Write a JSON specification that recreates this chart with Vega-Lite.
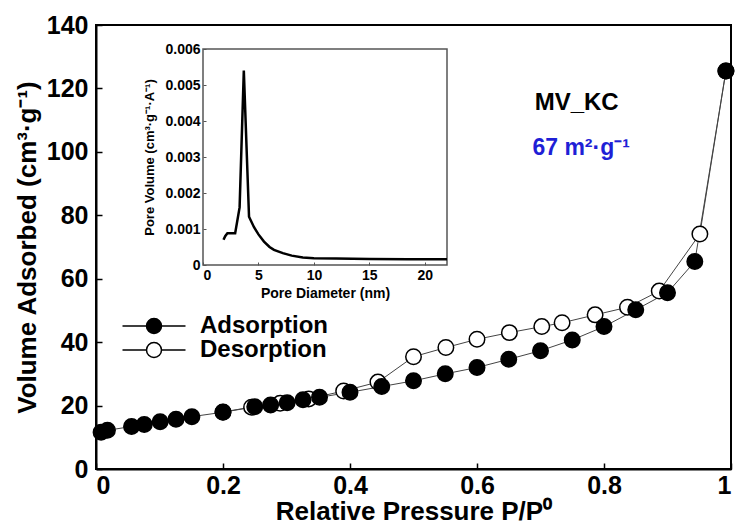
{
  "$schema": "https://vega.github.io/schema/vega-lite/v6.json",
  "width": 635,
  "height": 444,
  "autosize": "none",
  "padding": {"left": 96, "top": 25, "right": 6, "bottom": 58},
  "background": "white",
  "config": {
    "view": {"stroke": "black", "strokeWidth": 2},
    "font": "Liberation Sans",
    "axis": {"grid": false, "labelColor": "black", "titleColor": "black", "domainColor": "black", "tickColor": "black"}
  },
  "datasets": {
    "iso": [
      {"p": 0.992, "v": 125.5, "branch": "Desorption"},
      {"p": 0.951, "v": 74.1, "branch": "Desorption"},
      {"p": 0.887, "v": 56.1, "branch": "Desorption"},
      {"p": 0.837, "v": 51.0, "branch": "Desorption"},
      {"p": 0.786, "v": 48.6, "branch": "Desorption"},
      {"p": 0.734, "v": 46.1, "branch": "Desorption"},
      {"p": 0.702, "v": 44.9, "branch": "Desorption"},
      {"p": 0.651, "v": 43.0, "branch": "Desorption"},
      {"p": 0.600, "v": 40.9, "branch": "Desorption"},
      {"p": 0.551, "v": 38.3, "branch": "Desorption"},
      {"p": 0.500, "v": 35.4, "branch": "Desorption"},
      {"p": 0.444, "v": 27.4, "branch": "Desorption"},
      {"p": 0.390, "v": 24.6, "branch": "Desorption"},
      {"p": 0.335, "v": 22.1, "branch": "Desorption"},
      {"p": 0.290, "v": 20.7, "branch": "Desorption"},
      {"p": 0.245, "v": 19.5, "branch": "Desorption"},
      {"p": 0.200, "v": 18.0, "branch": "Desorption"},
      {"p": 0.008, "v": 11.6, "branch": "Adsorption"},
      {"p": 0.018, "v": 12.2, "branch": "Adsorption"},
      {"p": 0.056, "v": 13.4, "branch": "Adsorption"},
      {"p": 0.076, "v": 14.0, "branch": "Adsorption"},
      {"p": 0.101, "v": 14.9, "branch": "Adsorption"},
      {"p": 0.126, "v": 15.7, "branch": "Adsorption"},
      {"p": 0.151, "v": 16.5, "branch": "Adsorption"},
      {"p": 0.200, "v": 17.9, "branch": "Adsorption"},
      {"p": 0.250, "v": 19.6, "branch": "Adsorption"},
      {"p": 0.275, "v": 20.2, "branch": "Adsorption"},
      {"p": 0.301, "v": 20.9, "branch": "Adsorption"},
      {"p": 0.326, "v": 21.8, "branch": "Adsorption"},
      {"p": 0.352, "v": 22.6, "branch": "Adsorption"},
      {"p": 0.400, "v": 24.2, "branch": "Adsorption"},
      {"p": 0.450, "v": 26.0, "branch": "Adsorption"},
      {"p": 0.500, "v": 27.8, "branch": "Adsorption"},
      {"p": 0.550, "v": 30.0, "branch": "Adsorption"},
      {"p": 0.600, "v": 32.0, "branch": "Adsorption"},
      {"p": 0.650, "v": 34.6, "branch": "Adsorption"},
      {"p": 0.700, "v": 37.3, "branch": "Adsorption"},
      {"p": 0.750, "v": 40.7, "branch": "Adsorption"},
      {"p": 0.800, "v": 44.9, "branch": "Adsorption"},
      {"p": 0.850, "v": 50.2, "branch": "Adsorption"},
      {"p": 0.900, "v": 55.6, "branch": "Adsorption"},
      {"p": 0.943, "v": 65.4, "branch": "Adsorption"},
      {"p": 0.992, "v": 125.5, "branch": "Adsorption"}
    ],
    "psd": [
      {"d": 1.85, "pv": 0.00070},
      {"d": 2.0, "pv": 0.00080},
      {"d": 2.2, "pv": 0.00088},
      {"d": 2.9, "pv": 0.00088},
      {"d": 3.3, "pv": 0.00160},
      {"d": 3.68, "pv": 0.00540},
      {"d": 4.15, "pv": 0.00134},
      {"d": 4.6, "pv": 0.00105},
      {"d": 5.0, "pv": 0.00085},
      {"d": 5.5, "pv": 0.00065},
      {"d": 6.0, "pv": 0.00050},
      {"d": 6.4, "pv": 0.00042},
      {"d": 7.2, "pv": 0.00033},
      {"d": 8.0, "pv": 0.00026},
      {"d": 9.0, "pv": 0.00021},
      {"d": 10.0, "pv": 0.00019},
      {"d": 12.0, "pv": 0.00018},
      {"d": 15.0, "pv": 0.00017},
      {"d": 18.5, "pv": 0.00016},
      {"d": 22.0, "pv": 0.00016}
    ]
  },
  "layer": [
    {
      "layer": [
        {
          "data": {"name": "iso"},
          "mark": {"type": "line", "color": "#444", "strokeWidth": 1},
          "encoding": {
            "x": {"field": "p", "type": "quantitative", "scale": {"domain": [0, 1]},
              "axis": {"values": [0, 0.2, 0.4, 0.6, 0.8, 1], "format": "~g", "title": "Relative Pressure P/P⁰",
                "labelFontSize": 25, "labelFontWeight": "bold", "titleFontSize": 26, "titleFontWeight": "bold",
                "tickSize": -6, "tickWidth": 1.5, "domainWidth": 2, "labelPadding": 10, "titlePadding": 0}},
            "y": {"field": "v", "type": "quantitative", "scale": {"domain": [0, 140]},
              "axis": {"values": [0, 20, 40, 60, 80, 100, 120, 140], "title": "Volume Adsorbed (cm³·g⁻¹)",
                "labelFontSize": 25, "labelFontWeight": "bold", "titleFontSize": 26, "titleFontWeight": "bold",
                "tickSize": -6, "tickWidth": 1.5, "domainWidth": 2, "labelPadding": 14, "titlePadding": 6}},
            "detail": {"field": "branch"}
          }
        },
        {
          "data": {"name": "iso"},
          "mark": {"type": "point", "filled": true, "size": 240, "stroke": "black", "strokeWidth": 1.5, "opacity": 1},
          "encoding": {
            "x": {"field": "p", "type": "quantitative"},
            "y": {"field": "v", "type": "quantitative"},
            "fill": {"field": "branch", "type": "nominal",
              "scale": {"domain": ["Adsorption", "Desorption"], "range": ["black", "white"]},
              "legend": {"orient": "none", "legendX": 46, "legendY": 289, "title": null,
                "labelFontSize": 24, "labelFontWeight": "bold", "labelColor": "black", "labelOffset": 34,
                "rowPadding": 0, "symbolSize": 225,
                "symbolType": "M-4.2,0H-1M1,0H4.2M-1,0A1,1 0 1,0 1,0A1,1 0 1,0 -1,0",
                "symbolStrokeColor": "black", "symbolStrokeWidth": 1.5,
                "encode": {"symbols": {"update": {"stroke": {"value": "black"}, "strokeWidth": {"value": 1.5}, "opacity": {"value": 1}}}}}
            }
          }
        },
        {
          "data": {"values": [{}]},
          "mark": {"type": "text", "text": "MV_KC", "fontSize": 24, "fontWeight": "bold", "color": "black", "align": "center", "baseline": "alphabetic"},
          "encoding": {"x": {"datum": 0.757, "type": "quantitative"}, "y": {"datum": 113.2, "type": "quantitative"}}
        },
        {
          "data": {"values": [{}]},
          "mark": {"type": "text", "text": "67 m²·g⁻¹", "fontSize": 23, "fontWeight": "bold", "color": "#1f1fd6", "align": "center", "baseline": "alphabetic"},
          "encoding": {"x": {"datum": 0.764, "type": "quantitative"}, "y": {"datum": 99.0, "type": "quantitative"}}
        }
      ]
    },
    {
      "layer": [
        {
          "data": {"values": [{}]},
          "mark": {"type": "rect", "filled": false, "stroke": "#555", "strokeWidth": 1.5},
          "encoding": {
            "x": {"datum": 0, "type": "quantitative", "scale": {"domain": [0, 22], "range": [107, 351]},
              "axis": {"orient": "bottom", "offset": -204, "values": [0, 5, 10, 15, 20], "title": "Pore Diameter (nm)",
                "domain": false, "tickSize": -3, "tickColor": "#555", "labelFontSize": 14, "labelFontWeight": "bold",
                "titleFontSize": 14, "titleFontWeight": "bold", "labelPadding": 6, "titlePadding": 4}},
            "x2": {"datum": 22},
            "y": {"datum": 0, "type": "quantitative", "scale": {"domain": [0, 0.006], "range": [240, 24]},
              "axis": {"orient": "left", "offset": -107, "values": [0, 0.001, 0.002, 0.003, 0.004, 0.005, 0.006], "format": "~g",
                "title": "Pore Volume (cm³·g⁻¹·A⁻¹)", "domain": false, "tickSize": -3, "tickColor": "#555",
                "labelFontSize": 14, "labelFontWeight": "bold", "titleFontSize": 13, "titleFontWeight": "bold",
                "labelPadding": 6, "titlePadding": 8}},
            "y2": {"datum": 0.006}
          }
        },
        {
          "data": {"name": "psd"},
          "mark": {"type": "line", "color": "black", "strokeWidth": 2.5},
          "encoding": {
            "x": {"field": "d", "type": "quantitative"},
            "y": {"field": "pv", "type": "quantitative"}
          }
        }
      ]
    }
  ],
  "resolve": {"scale": {"x": "independent", "y": "independent"}}
}
